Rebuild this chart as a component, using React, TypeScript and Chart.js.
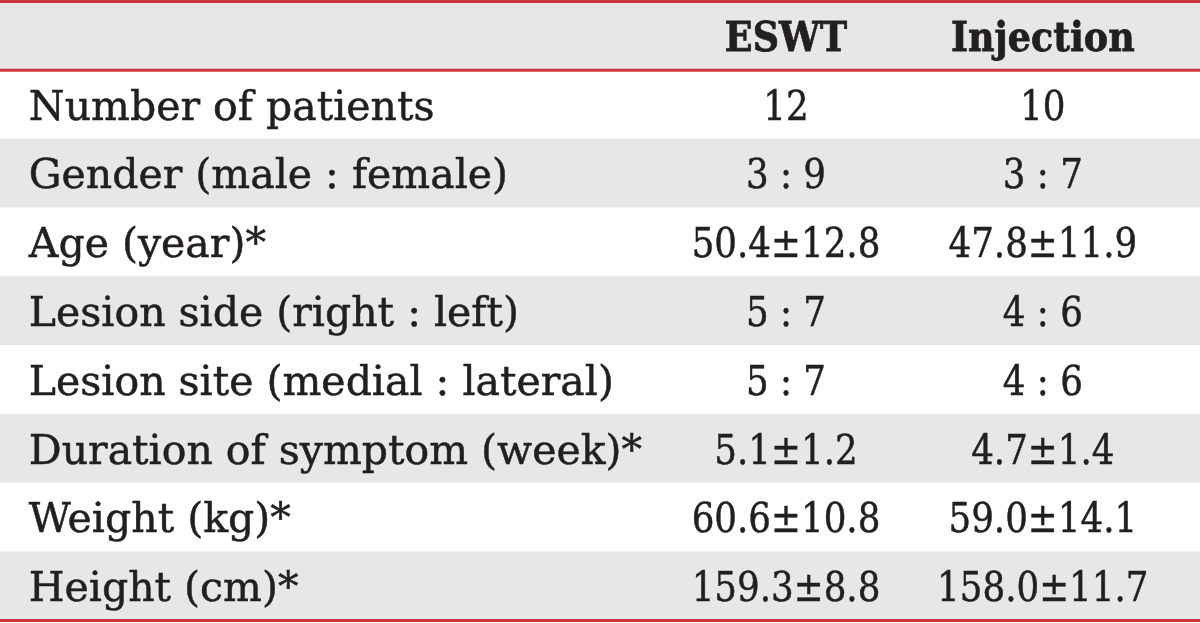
import React, { useEffect, useRef } from "react";
import { Chart, registerables } from "chart.js";

Chart.register(...registerables);

const columnHeaders = ["", "ESWT", "Injection"];
const rowLabels = [
  "Number of patients",
  "Gender (male : female)",
  "Age (year)*",
  "Lesion side (right : left)",
  "Lesion site (medial : lateral)",
  "Duration of symptom (week)*",
  "Weight (kg)*",
  "Height (cm)*",
];
const eswtValues = ["12", "3 : 9", "50.4±12.8", "5 : 7", "5 : 7", "5.1±1.2", "60.6±10.8", "159.3±8.8"];
const injectionValues = ["10", "3 : 7", "47.8±11.9", "4 : 6", "4 : 6", "4.7±1.4", "59.0±14.1", "158.0±11.7"];

const GRAY = "#e6e7e9";
const WHITE = "#ffffff";
const RED = "#cf333c";
const INK = "#231f20";
const FONT = '"DejaVu Serif", serif';
const FONT_SIZE = 41;
const VALUE_SQUEEZE = 0.87;
const HEADER_SQUEEZE = 0.89;

function drawText(ctx: any, text: string, x: number, y: number, align: string, sx: number, bold: boolean) {
  ctx.save();
  ctx.translate(x, y);
  ctx.scale(sx, 1);
  ctx.textAlign = align;
  ctx.fillText(text, 0, 0);
  ctx.lineWidth = bold ? 0.8 : 0.5;
  ctx.strokeText(text, 0, 0);
  ctx.restore();
}

const tablePlugin = {
  id: "tableText",
  afterDatasetsDraw(chart: any) {
    const { ctx, scales, chartArea } = chart;
    const x = scales.x;
    const y = scales.y;
    const labelX = x.getPixelForValue(2.4);
    const col1X = x.getPixelForValue(65.5);
    const col2X = x.getPixelForValue(86.9);
    const cap = FONT_SIZE * 0.729;
    ctx.save();
    ctx.fillStyle = INK;
    ctx.strokeStyle = INK;
    ctx.textBaseline = "alphabetic";
    // header
    const hy = y.getPixelForValue(0) + cap / 2;
    ctx.font = `bold ${FONT_SIZE}px ${FONT}`;
    drawText(ctx, columnHeaders[0], labelX, hy, "left", HEADER_SQUEEZE, true);
    drawText(ctx, columnHeaders[1], col1X, hy, "center", HEADER_SQUEEZE, true);
    drawText(ctx, columnHeaders[2], col2X, hy, "center", HEADER_SQUEEZE, true);
    // body
    ctx.font = `${FONT_SIZE}px ${FONT}`;
    rowLabels.forEach((lab, i) => {
      const py = y.getPixelForValue(i + 1) + cap / 2;
      drawText(ctx, lab, labelX, py, "left", 1, false);
      drawText(ctx, eswtValues[i], col1X, py, "center", VALUE_SQUEEZE, false);
      drawText(ctx, injectionValues[i], col2X, py, "center", VALUE_SQUEEZE, false);
    });
    // red rules
    const headerBottom = (y.getPixelForValue(0) + y.getPixelForValue(1)) / 2;
    ctx.strokeStyle = RED;
    ctx.lineWidth = 3;
    [chartArea.top, headerBottom, chartArea.bottom].forEach((ly: number) => {
      ctx.beginPath();
      ctx.moveTo(chartArea.left, ly);
      ctx.lineTo(chartArea.right, ly);
      ctx.stroke();
    });
    ctx.restore();
  },
};

export default function App() {
  const ref = useRef<HTMLCanvasElement>(null);
  useEffect(() => {
    if (!ref.current) return;
    const labels = ["header", ...rowLabels];
    const chart = new Chart(ref.current, {
      type: "bar",
      data: {
        labels,
        datasets: [
          {
            data: labels.map(() => [0, 100]) as any,
            backgroundColor: labels.map((_, i) => (i === 0 ? GRAY : i % 2 === 1 ? WHITE : GRAY)),
            borderWidth: 0,
            barPercentage: 1,
            categoryPercentage: 1,
          },
        ],
      },
      options: {
        indexAxis: "y",
        animation: false,
        responsive: false,
        events: [],
        layout: { padding: { top: 1.5, bottom: 2.5, left: 0, right: 0 } },
        plugins: { legend: { display: false }, tooltip: { enabled: false } },
        scales: {
          x: { type: "linear", min: 0, max: 100, display: false },
          y: { type: "category", display: false, grid: { display: false } },
        },
      },
      plugins: [tablePlugin],
    });
    return () => chart.destroy();
  }, []);
  return (
    <div style={{ position: "absolute", left: 0, top: 0, width: 1200, height: 623, background: "#fff" }}>
      <canvas ref={ref} width={1200} height={623} style={{ display: "block" }} />
    </div>
  );
}
